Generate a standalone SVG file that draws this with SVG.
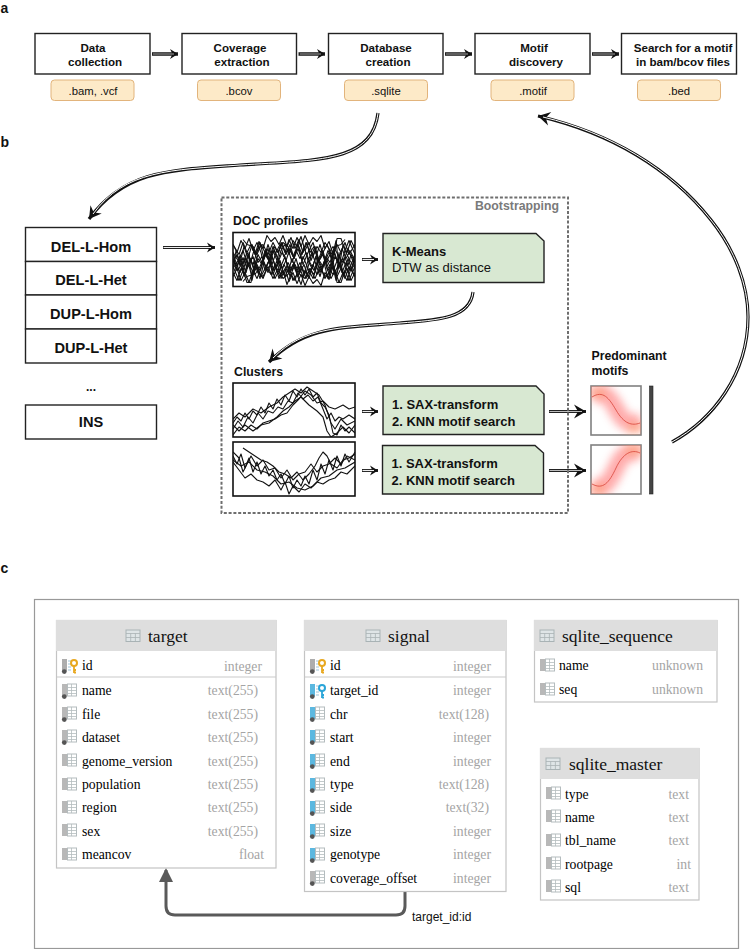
<svg xmlns="http://www.w3.org/2000/svg" width="750" height="949" viewBox="0 0 750 949">
<style>
text{font-family:"Liberation Sans",Arial,sans-serif;fill:#111}
.box{fill:#fff;stroke:#222;stroke-width:1.4}
.tag{fill:#fdeac8;stroke:#e2b47c;stroke-width:1}
.t{font-size:11.6px;font-weight:700;text-anchor:middle}
.e{font-size:11.3px;text-anchor:middle}
.l{font-size:14.6px;font-weight:700;text-anchor:middle}
.g{fill:#d8e8d2;stroke:#222;stroke-width:1.4}
.gt{font-size:13px;font-weight:700}
.sec{font-size:12.3px;font-weight:700}
.pl{font-size:14px;font-weight:700}
.chart{fill:#fff;stroke:#111;stroke-width:1.6}
.j{fill:none;stroke:#111;stroke-width:1.1;stroke-linejoin:round}
.o{fill:none;stroke:#111;stroke-width:3.2}
.i{fill:none;stroke:#fff;stroke-width:1}
.s{fill:none;stroke:#222;stroke-width:3}
.si{fill:none;stroke:#eee;stroke-width:1.1}
.oh{fill:none;stroke:#222;stroke-width:3.6}
.ih{fill:none;stroke:#777;stroke-width:1.4}
.tb{fill:#fff;stroke:#c4c4c4;stroke-width:1.2}
.hd{fill:#dedede}
.sep{stroke:#c9c9c9;stroke-width:1.2}
.h{font-family:"Liberation Serif",serif;font-size:17.5px}
.r{font-family:"Liberation Serif",serif;font-size:13.7px;fill:#000}
.ty{font-family:"Liberation Serif",serif;font-size:13.7px;fill:#a4a4a4;text-anchor:end}
.mot{fill:#fff;stroke:#808080;stroke-width:1.6}
</style>
<defs>
<marker id="ah" markerUnits="userSpaceOnUse" markerWidth="12" markerHeight="12" refX="9" refY="6" orient="auto"><path d="M1,1 L9,6 L1,11 L3.5,6 Z" fill="#111"/></marker>
<marker id="ah2" markerUnits="userSpaceOnUse" markerWidth="16" markerHeight="16" refX="13" refY="8" orient="auto"><path d="M1,1 L13,8 L1,15 L5,8 Z" fill="#111"/></marker>
<marker id="ag" markerUnits="userSpaceOnUse" markerWidth="16" markerHeight="16" refX="12" refY="7" orient="auto"><path d="M0,0 L14,7 L0,14 Z" fill="#5a5a5a"/></marker>
<filter id="bl" x="-40%" y="-40%" width="180%" height="180%"><feGaussianBlur stdDeviation="4"/></filter>
<clipPath id="c0"><rect x="0" y="0" width="122" height="54"/></clipPath>
<clipPath id="m1"><rect x="591" y="386" width="50" height="49"/></clipPath>
<clipPath id="m2"><rect x="591" y="445" width="50" height="49"/></clipPath>
<g id="grid"><rect x="0" y="0" width="9" height="12" fill="#fff" stroke="#b4bcbe" stroke-width="1"/><path d="M0,3.500H9M0,6.500H9M0,9.500H9M4,0V12" stroke="#b4bcbe" stroke-width=".8"/></g>
<g id="hi"><rect x="0" y="0" width="14" height="11.500" fill="#dfe5e7" stroke="#a9b3b5"/><path d="M0,3.500H14M0,7.500H14M4.700,3.500V11.500M9.400,3.500V11.500" stroke="#a9b3b5" stroke-width=".8"/></g>
<g id="cg"><rect x="0" y="0" width="5" height="12" fill="#b8b8b8"/><use href="#grid" x="5.500"/></g>
<g id="cgd"><use href="#cg"/><circle cx="2.300" cy="12.600" r="2.400" fill="#555"/></g>
<g id="cbd"><rect x="0" y="0" width="5" height="12" fill="#5cb8e0"/><use href="#grid" x="5.500"/><circle cx="2.300" cy="12.600" r="2.400" fill="#555"/></g>
<g id="ky"><rect x="0" y="0" width="5" height="12" fill="#adadad"/><path d="M6,2H10M6,5H9M6,8H9M6,11H9" stroke="#9fc5d8" stroke-width="1"/><circle cx="2.300" cy="12.600" r="2.400" fill="#555"/><circle cx="12" cy="4" r="3" fill="none" stroke="#e8a820" stroke-width="2"/><path d="M12,7V14M12,11H14M12,13.500H14" stroke="#e8a820" stroke-width="1.800"/></g>
<g id="kb"><rect x="0" y="0" width="5" height="12" fill="#5cb8e0"/><path d="M6,2H10M6,5H9M6,8H9M6,11H9" stroke="#9fc5d8" stroke-width="1"/><circle cx="2.300" cy="12.600" r="2.400" fill="#555"/><circle cx="12" cy="4" r="3" fill="none" stroke="#2aa5d8" stroke-width="2"/><path d="M12,7V14M12,11H14M12,13.500H14" stroke="#2aa5d8" stroke-width="1.800"/></g>
<g id="d1" class="j">
<polyline points="0,30 4,22 7,33 10,25 14,36 18,28 21,18 25,30 29,24 33,35 37,27 41,38 45,30 49,20 53,28 57,16 61,26 65,12 69,22 73,10 77,20 81,14 85,28 89,18 93,30 97,22 101,36 105,26 109,40 113,30 117,38 122,28"/>
<polyline points="0,20 3,38 7,26 11,42 15,30 19,44 23,34 27,46 31,30 35,40 39,24 43,36 47,44 51,32 55,40 59,26 63,38 67,30 71,42 75,28 79,36 83,24 87,12 91,26 95,38 99,30 103,48 106,20 110,44 114,36 118,48 122,40"/>
<polyline points="0,44 4,36 8,48 12,40 16,50 20,38 24,46 28,36 32,18 36,28 40,14 44,24 48,38 52,44 56,34 60,48 64,42 68,52 72,38 76,46 80,32 84,42 88,36 92,46 96,40 100,28 104,50 108,50 112,38 116,48 122,34"/>
<polyline points="10,7 14,12 20,14 24,22 28,12 32,20 36,28 40,18 44,28 48,10 52,20 56,7 60,16 64,5 68,14 72,3 76,12 80,5 84,9 88,3 92,16 96,9 100,22 104,12 108,20 112,10 116,22 122,12"/>
<polyline points="0,36 5,28 10,18 15,34 20,24 25,40 30,44 35,34 40,46 45,36 50,46 55,42 60,32 65,44 70,24 75,36 80,46 85,30 90,22 95,34 100,42 105,34 110,26 115,40 122,22"/>
</g>
</defs>

<text class="pl" x="0.500" y="13">a</text>
<text class="pl" x="0.500" y="147">b</text>
<text class="pl" x="0.500" y="573">c</text>

<g id="connectors">
<path class="oh" d="M152,54H178" marker-end="url(#ah)"/><path class="ih" d="M153,54H174"/>
<path class="oh" d="M298.500,54H325" marker-end="url(#ah)"/><path class="ih" d="M300,54H321"/>
<path class="oh" d="M445,54H472" marker-end="url(#ah)"/><path class="ih" d="M446,54H468"/>
<path class="oh" d="M592,54H619" marker-end="url(#ah)"/><path class="ih" d="M593,54H615"/>
<path class="o" d="M378,113 C372,162 320,160 240,165 C170,170 125,170 89,219" marker-end="url(#ah2)"/>
<path class="i" d="M378,113 C372,162 320,160 240,165 C170,170 125,170 93,214"/>
<path class="o" d="M672,442 C712,420 748,375 748,317 C748,285 735,250 711,220 C670,168 610,133 538,116" marker-end="url(#ah2)"/>
<path class="i" d="M672,442 C712,420 748,375 748,317 C748,285 735,250 711,220 C670,168 610,133 543,117"/>
<path class="s" d="M163,247.500H215" marker-end="url(#ah)"/><path class="si" d="M163.500,247.500H211"/>
<path class="s" d="M362,259.500H378" marker-end="url(#ah)"/><path class="si" d="M362.500,259.500H374"/>
<path class="s" d="M362,411.500H378" marker-end="url(#ah)"/><path class="si" d="M362.500,411.500H374"/>
<path class="s" d="M362,470.500H378" marker-end="url(#ah)"/><path class="si" d="M362.500,470.500H374"/>
<path class="o" d="M473,292 C470,318 440,320 400,323 C340,328 305,326 269,362" marker-end="url(#ah2)"/>
<path class="i" d="M473,292 C470,318 440,320 400,323 C340,328 305,326 273,358"/>
<path class="s" d="M549,411.500H586" marker-end="url(#ah2)"/><path class="si" d="M549.500,411.500H582" style="stroke:#bbb"/>
<path class="s" d="M549,470.500H586" marker-end="url(#ah2)"/><path class="si" d="M549.500,470.500H582" style="stroke:#bbb"/>
<path d="M405,891V906Q405,915 396,915H175Q166,915 166,906V870" fill="none" stroke="#5a5a5a" stroke-width="3" marker-end="url(#ag)"/>
</g>
<text x="412" y="921" font-size="12">target_id:id</text>

<g id="n-data"><rect class="box" x="35" y="33.500" width="115" height="40.500"/><text class="t" x="93" y="52">Data</text><text class="t" x="95" y="65.500">collection</text></g>
<g id="t-bam"><rect class="tag" x="51" y="80" width="83" height="20.500" rx="3.500"/><text class="e" x="93" y="95">.bam, .vcf</text></g>
<g id="n-cov"><rect class="box" x="182" y="33.500" width="114.500" height="40.500"/><text class="t" x="240" y="52">Coverage</text><text class="t" x="242" y="65.500">extraction</text></g>
<g id="t-bcov"><rect class="tag" x="197.500" y="80" width="83" height="20.500" rx="3.500"/><text class="e" x="239" y="95">.bcov</text></g>
<g id="n-db"><rect class="box" x="328.500" y="33.500" width="114.500" height="40.500"/><text class="t" x="386" y="52">Database</text><text class="t" x="388" y="65.500">creation</text></g>
<g id="t-sqlite"><rect class="tag" x="344.500" y="80" width="83" height="20.500" rx="3.500"/><text class="e" x="386" y="95">.sqlite</text></g>
<g id="n-motif"><rect class="box" x="475" y="33.500" width="115" height="40.500"/><text class="t" x="534" y="52">Motif</text><text class="t" x="536" y="65.500">discovery</text></g>
<g id="t-motif"><rect class="tag" x="491" y="80" width="83" height="20.500" rx="3.500"/><text class="e" x="533" y="95">.motif</text></g>
<g id="n-search"><rect class="box" x="621.500" y="33.500" width="115" height="40.500"/><text class="t" x="683" y="52">Search for a motif</text><text class="t" x="683" y="65.500">in bam/bcov files</text></g>
<g id="t-bed"><rect class="tag" x="637.500" y="80" width="83" height="20.500" rx="3.500"/><text class="e" x="679" y="95">.bed</text></g>

<g id="n-del-hom"><rect class="box" x="25.500" y="227.500" width="131" height="34"/><text class="l" x="91" y="252">DEL-L-Hom</text></g>
<g id="n-del-het"><rect class="box" x="25.500" y="261.500" width="131" height="33.500"/><text class="l" x="91" y="285">DEL-L-Het</text></g>
<g id="n-dup-hom"><rect class="box" x="25.500" y="295" width="131" height="34"/><text class="l" x="91" y="319">DUP-L-Hom</text></g>
<g id="n-dup-het"><rect class="box" x="25.500" y="329" width="131" height="34"/><text class="l" x="91" y="353">DUP-L-Het</text></g>
<text x="91" y="391" font-size="12" font-weight="700" text-anchor="middle">...</text>
<g id="n-ins"><rect class="box" x="25.500" y="405" width="131" height="34"/><text class="l" x="91" y="427">INS</text></g>

<g id="bootstrapping"><rect x="221.500" y="197.500" width="346.500" height="315.500" fill="none" stroke="#6e6e6e" stroke-width="2" stroke-dasharray="3 1.800"/><text x="559" y="210" font-size="12.300" font-weight="700" style="fill:#7a7a7a" text-anchor="end">Bootstrapping</text></g>

<text class="sec" x="233" y="225">DOC profiles</text>
<g id="chart-doc" transform="translate(233,232.500)"><rect class="chart" width="122" height="54"/><g clip-path="url(#c0)"><use href="#d1"/><use href="#d1" transform="translate(122,0) scale(-1,1)"/><use href="#d1" transform="translate(0,56) scale(1,-1)"/></g></g>
<g id="n-kmeans"><path class="g" d="M383,233.500H536L544,241V282.500H383Z"/><text class="gt" x="392" y="255.500">K-Means</text><text x="392" y="271.500" font-size="13">DTW as distance</text></g>

<text class="sec" x="234" y="376">Clusters</text>
<g id="chart-c1" transform="translate(233,383)"><rect class="chart" width="122" height="54"/><g clip-path="url(#c0)" class="j">
<polyline points="0,40 4,34 8,38 12,30 16,36 20,28 24,32 28,24 32,30 36,20 40,26 44,16 48,22 52,12 56,18 60,8 64,14 68,6 72,12 76,6 80,14 84,10 88,20 92,24 96,32 100,50 104,52 108,42 112,48 116,44 122,50"/>
<polyline points="0,46 5,38 10,44 15,34 20,40 25,30 30,36 35,28 40,30 45,24 50,26 55,18 60,20 65,10 70,16 75,12 80,18 85,14 90,26 94,36 98,30 102,38 106,34 110,36 116,32 122,36"/>
<polyline points="0,52 6,44 12,48 18,42 24,46 30,40 36,38 42,36 48,32 54,30 60,22 66,16 72,8 78,12 84,20 90,18 96,24 102,26 110,22 116,26 122,24"/>
<polyline points="0,42 6,48 12,42 20,48 28,42 36,40 44,34 50,28 56,24 62,18 68,14 76,22 84,28 90,34 94,48 98,54 104,50 110,44 116,50 122,42"/>
<polyline points="0,36 6,30 12,34 20,26 28,30 36,24 44,20 50,14 56,10 62,6 68,10 74,4 80,8 86,12 92,22 98,40 102,46 108,36 114,42 122,38"/>
</g></g>
<g id="chart-c2" transform="translate(233,442)"><rect class="chart" width="122" height="54"/><g clip-path="url(#c0)" class="j">
<polyline points="0,14 4,22 8,12 12,26 16,16 20,30 24,20 28,32 32,24 36,34 40,28 44,38 48,32 52,42 56,34 60,46 64,38 68,44 72,34 76,42 80,28 84,38 88,22 92,32 96,18 100,28 104,14 108,24 112,12 116,20 122,10"/>
<polyline points="10,6 16,10 22,14 28,18 34,20 40,24 46,30 52,32 58,36 64,30 70,38 76,32 82,24 86,16 90,10 94,14 98,22 104,26 110,18 116,16 122,12"/>
<polyline points="0,20 6,28 12,36 18,32 24,38 30,40 36,44 42,38 48,48 52,40 56,52 60,44 66,50 72,42 78,46 84,40 90,42 96,38 102,36 108,30 114,32 122,24"/>
<polyline points="0,10 6,16 10,30 14,22 18,14 24,24 30,18 36,28 42,26 48,36 54,28 60,38 66,32 72,30 78,22 84,30 90,24 96,22 102,16 108,22 114,14 122,18"/>
<polyline points="0,18 8,24 16,20 24,28 32,30 40,34 48,42 56,40 64,46 72,48 80,44 88,36 96,34 104,28 112,26 122,20"/>
</g></g>
<g id="n-sax1"><path class="g" d="M383,386H536L544,394V434.500H383Z"/><text class="gt" x="392" y="409">1. SAX-transform</text><text class="gt" x="392" y="425.500">2. KNN motif search</text></g>
<g id="n-sax2"><path class="g" d="M382.500,445.500H535L543.500,453V494H382.500Z"/><text class="gt" x="391.500" y="468">1. SAX-transform</text><text class="gt" x="391.500" y="484.500">2. KNN motif search</text></g>

<text class="sec" x="591.500" y="360">Predominant</text><text class="sec" x="591.500" y="375">motifs</text>
<g id="motif1"><rect class="mot" x="591" y="386" width="50" height="49"/><g clip-path="url(#m1)"><path d="M592,397C605,388 610,398 618,412C625,425 632,424 641,421" fill="none" stroke="#f66" stroke-width="17" opacity=".55" filter="url(#bl)"/><path d="M592,393H605M628,428H641" stroke="#fa9a5a" stroke-width="8" opacity=".5" filter="url(#bl)"/><path d="M592,397C603,390 609,398 616,410C624,424 632,426 640,423" fill="none" stroke="#d8453a" stroke-width=".8"/></g></g>
<g id="motif2"><rect class="mot" x="591" y="445" width="50" height="49"/><g clip-path="url(#m2)"><path d="M592,485C606,492 611,478 618,464C624,452 632,450 641,454" fill="none" stroke="#f66" stroke-width="17" opacity=".55" filter="url(#bl)"/><path d="M592,489H605M626,450H641" stroke="#fa9a5a" stroke-width="8" opacity=".5" filter="url(#bl)"/><path d="M592,484C603,490 609,483 616,468C623,453 632,449 640,453" fill="none" stroke="#d8453a" stroke-width=".8"/></g></g>
<rect id="bar" x="649.500" y="386" width="3.500" height="108" fill="#444" stroke="#222" stroke-width=".6"/>

<rect id="db-frame" x="34.500" y="599.500" width="704" height="349" fill="none" stroke="#999" stroke-width="1.200"/>

<g id="target">
<rect class="tb" x="56.500" y="620.500" width="219.500" height="247.500"/><rect class="hd" x="56" y="620" width="220.500" height="31"/><path class="sep" d="M57,677H276"/>
<use href="#hi" x="126" y="630"/><text class="h" x="148" y="642">target</text>
<use href="#ky" x="62" y="659"/><text class="r" x="82" y="670">id</text><text class="ty" x="262" y="670.500">integer</text>
<use href="#cgd" x="62" y="684"/><text class="r" x="82" y="695">name</text><text class="ty" x="258" y="695">text(255)</text>
<use href="#cgd" x="62" y="707"/><text class="r" x="82" y="718.500">file</text><text class="ty" x="258" y="718.500">text(255)</text>
<use href="#cgd" x="62" y="730"/><text class="r" x="82" y="741.500">dataset</text><text class="ty" x="258" y="741.500">text(255)</text>
<use href="#cg" x="62" y="754"/><text class="r" x="82" y="765.500">genome_version</text><text class="ty" x="258" y="765.500">text(255)</text>
<use href="#cg" x="62" y="778"/><text class="r" x="82" y="789">population</text><text class="ty" x="258" y="789">text(255)</text>
<use href="#cg" x="62" y="801"/><text class="r" x="82" y="812">region</text><text class="ty" x="258" y="812">text(255)</text>
<use href="#cg" x="62" y="824"/><text class="r" x="82" y="835.500">sex</text><text class="ty" x="258" y="835.500">text(255)</text>
<use href="#cg" x="62" y="848"/><text class="r" x="82" y="859">meancov</text><text class="ty" x="264" y="859">float</text>
</g>

<g id="signal">
<rect class="tb" x="304.500" y="620.500" width="201.500" height="271"/><rect class="hd" x="304" y="620" width="202.500" height="31"/><path class="sep" d="M305,677H506"/>
<use href="#hi" x="366" y="630"/><text class="h" x="388" y="642">signal</text>
<use href="#ky" x="310" y="659"/><text class="r" x="330" y="670">id</text><text class="ty" x="491" y="670.500">integer</text>
<use href="#kb" x="310" y="684"/><text class="r" x="330" y="695">target_id</text><text class="ty" x="491" y="695">integer</text>
<use href="#cbd" x="310" y="707"/><text class="r" x="330" y="718.500">chr</text><text class="ty" x="489" y="718.500">text(128)</text>
<use href="#cbd" x="310" y="730"/><text class="r" x="330" y="741.500">start</text><text class="ty" x="491" y="741.500">integer</text>
<use href="#cbd" x="310" y="754"/><text class="r" x="330" y="765.500">end</text><text class="ty" x="491" y="765.500">integer</text>
<use href="#cbd" x="310" y="778"/><text class="r" x="330" y="789">type</text><text class="ty" x="489" y="789">text(128)</text>
<use href="#cbd" x="310" y="801"/><text class="r" x="330" y="812">side</text><text class="ty" x="489" y="812">text(32)</text>
<use href="#cbd" x="310" y="824"/><text class="r" x="330" y="835.500">size</text><text class="ty" x="491" y="835.500">integer</text>
<use href="#cbd" x="310" y="848"/><text class="r" x="330" y="859">genotype</text><text class="ty" x="491" y="859">integer</text>
<use href="#cgd" x="310" y="871"/><text class="r" x="330" y="882.500">coverage_offset</text><text class="ty" x="491" y="882.500">integer</text>
</g>

<g id="sqlite_sequence">
<rect class="tb" x="534.500" y="620.500" width="182.500" height="81.500"/><rect class="hd" x="534" y="620" width="183.500" height="31"/>
<use href="#hi" x="540" y="630"/><text class="h" x="562" y="642">sqlite_sequence</text>
<use href="#cg" x="540" y="659"/><text class="r" x="559" y="670">name</text><text class="ty" x="703" y="670">unknown</text>
<use href="#cg" x="540" y="683"/><text class="r" x="559" y="693.500">seq</text><text class="ty" x="703" y="693.500">unknown</text>
</g>

<g id="sqlite_master">
<rect class="tb" x="540.500" y="748.500" width="158.500" height="151.500"/><rect class="hd" x="540" y="748" width="159.500" height="31"/>
<use href="#hi" x="546" y="758"/><text class="h" x="569" y="770">sqlite_master</text>
<use href="#cg" x="546" y="787"/><text class="r" x="565" y="798.500">type</text><text class="ty" x="689" y="798.500">text</text>
<use href="#cg" x="546" y="810"/><text class="r" x="565" y="821.500">name</text><text class="ty" x="689" y="821.500">text</text>
<use href="#cg" x="546" y="834"/><text class="r" x="565" y="845">tbl_name</text><text class="ty" x="689" y="845">text</text>
<use href="#cg" x="546" y="857"/><text class="r" x="565" y="868.500">rootpage</text><text class="ty" x="691" y="868.500">int</text>
<use href="#cg" x="546" y="880"/><text class="r" x="565" y="892">sql</text><text class="ty" x="689" y="892">text</text>
</g>
</svg>
